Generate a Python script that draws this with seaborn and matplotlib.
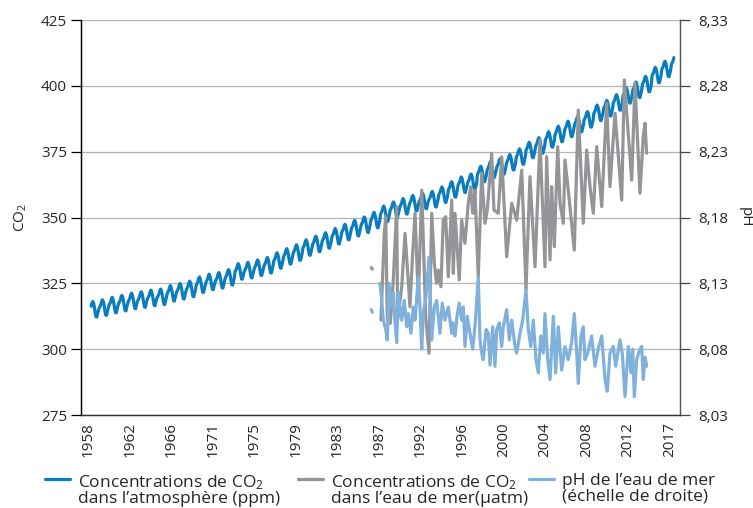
import numpy as np
import pandas as pd
import matplotlib
matplotlib.use("Agg")
import matplotlib.pyplot as plt
import seaborn as sns

# atmospheric CO2, annual means (ppm) 1958-2018
co2_years = list(range(1958, 2019))
co2_annual = [315.3, 315.97, 316.91, 317.64, 318.45, 318.99, 319.62, 320.04, 321.38, 322.16,
              323.04, 324.62, 325.68, 326.32, 327.45, 329.68, 330.18, 331.11, 332.04, 333.83,
              335.40, 336.84, 338.75, 340.11, 341.45, 343.05, 344.65, 346.12, 347.42, 349.19,
              351.57, 353.12, 354.39, 355.61, 356.45, 357.10, 358.83, 360.82, 362.61, 363.73,
              366.70, 368.38, 369.55, 371.14, 373.28, 375.80, 377.52, 379.80, 381.90, 383.79,
              385.60, 387.43, 389.90, 391.65, 393.85, 396.52, 398.65, 400.83, 404.24, 406.55,
              408.52]
# monthly departure from the annual mean, Jan..Dec
co2_season = [-0.3, 0.3, 1.0, 2.2, 2.8, 2.1, 0.6, -1.4, -3.0, -3.1, -1.8, -0.5]

# CO2 in sea water (uatm)
gray_early_years = [1987.08, 1987.20]
gray_early_vals = [331.0, 330.4]
gray_years = [1988.09, 1988.43, 1988.58, 1988.74, 1989.05, 1989.36, 1989.71, 1989.81, 1990.23, 1990.57,
              1991.08, 1991.32, 1991.60, 1991.94, 1992.29, 1992.70, 1993.04, 1993.32, 1993.59, 1993.83,
              1994.00, 1994.27, 1994.51, 1994.76, 1995.03, 1995.38, 1995.55, 1995.72, 1996.16, 1996.41,
              1996.75, 1997.09, 1997.34, 1997.55, 1997.78, 1998.12, 1998.47, 1998.81, 1999.05, 1999.50,
              1999.74, 2000.18, 2000.54, 2001.05, 2001.57, 2002.08, 2002.60, 2003.04, 2003.45, 2003.97,
              2004.48, 2005.00, 2005.17, 2005.52, 2005.69, 2005.96, 2006.31, 2006.55, 2006.89, 2007.06,
              2007.40, 2008.02, 2008.43, 2008.95, 2009.30, 2009.64, 2009.98, 2010.33, 2010.85, 2011.36,
              2011.70, 2012.22, 2012.91, 2013.18, 2013.94, 2014.28, 2014.79, 2015.13, 2015.31, 2015.48]
gray_vals = [311.1, 344.0, 350.3, 311.0, 309.8, 326.3, 354.1, 311.0, 323.7, 344.0,
             316.1, 333.8, 351.6, 318.7, 360.4, 312.3, 298.4, 351.6, 332.6, 325.0,
             330.0, 323.7, 349.0, 350.3, 327.5, 356.6, 328.8, 351.6, 326.3, 349.0,
             340.2, 355.4, 361.7, 351.6, 360.4, 327.5, 366.8, 347.8, 352.8, 374.4,
             352.8, 351.6, 373.1, 335.1, 355.4, 349.0, 368.0, 322.5, 365.5, 331.3,
             379.4, 331.3, 373.1, 333.9, 361.7, 338.9, 376.9, 355.4, 347.8, 371.8,
             360.4, 337.6, 390.8, 347.8, 375.6, 361.7, 351.6, 376.9, 354.1, 393.4,
             361.7, 389.6, 356.6, 402.2, 364.2, 400.9, 359.2, 380.7, 385.8, 374.4]

# sea water pH (right axis)
ph_early_years = [1987.08, 1987.20]
ph_early_vals = [8.110, 8.108]
ph_years = [1987.99, 1988.16, 1988.33, 1988.58, 1988.74, 1988.92, 1989.19, 1989.36, 1989.53, 1989.71,
            1989.87, 1990.05, 1990.23, 1990.49, 1990.74, 1990.91, 1991.18, 1991.42, 1991.60, 1991.94,
            1992.11, 1992.29, 1992.45, 1992.73, 1993.04, 1993.32, 1993.59, 1993.83, 1994.17, 1994.41,
            1994.69, 1995.03, 1995.38, 1995.48, 1995.72, 1995.96, 1996.16, 1996.41, 1996.58, 1996.75,
            1996.99, 1997.27, 1997.55, 1997.78, 1998.12, 1998.30, 1998.47, 1998.64, 1998.92, 1999.15,
            1999.33, 1999.61, 1999.84, 2000.02, 2000.29, 2000.54, 2000.70, 2001.05, 2001.32, 2001.57,
            2001.91, 2002.08, 2002.42, 2002.70, 2003.04, 2003.28, 2003.53, 2003.79, 2004.07, 2004.31,
            2004.56, 2004.82, 2005.00, 2005.28, 2005.52, 2005.86, 2006.10, 2006.37, 2006.55, 2006.72,
            2007.06, 2007.40, 2007.75, 2008.02, 2008.27, 2008.43, 2008.71, 2008.95, 2009.12, 2009.40,
            2009.81, 2010.15, 2010.49, 2010.85, 2011.19, 2011.42, 2011.70, 2012.04, 2012.29, 2012.73,
            2012.97, 2013.25, 2013.59, 2013.87, 2014.04, 2014.21, 2014.45, 2014.79, 2014.97, 2015.13,
            2015.31, 2015.48]
ph_vals = [8.130, 8.117, 8.102, 8.095, 8.087, 8.130, 8.112, 8.123, 8.102, 8.085,
           8.123, 8.112, 8.102, 8.117, 8.097, 8.107, 8.092, 8.112, 8.102, 8.135,
           8.112, 8.080, 8.107, 8.120, 8.150, 8.087, 8.112, 8.117, 8.092, 8.115,
           8.102, 8.112, 8.092, 8.100, 8.090, 8.107, 8.115, 8.102, 8.112, 8.082,
           8.105, 8.092, 8.080, 8.097, 8.135, 8.087, 8.077, 8.072, 8.095, 8.092,
           8.068, 8.097, 8.067, 8.095, 8.100, 8.082, 8.097, 8.110, 8.087, 8.102,
           8.082, 8.077, 8.092, 8.102, 8.125, 8.095, 8.082, 8.102, 8.072, 8.062,
           8.090, 8.077, 8.107, 8.072, 8.057, 8.105, 8.062, 8.097, 8.080, 8.064,
           8.082, 8.072, 8.085, 8.107, 8.077, 8.054, 8.090, 8.097, 8.072, 8.077,
           8.090, 8.067, 8.080, 8.090, 8.057, 8.048, 8.077, 8.082, 8.067, 8.087,
           8.077, 8.044, 8.082, 8.062, 8.080, 8.044, 8.072, 8.080, 8.082, 8.057,
           8.074, 8.067]

x_labels = ['1958', '1962', '1966', '1971', '1975', '1979', '1983', '1987',
            '1992', '1996', '2000', '2004', '2008', '2012', '2017']
co2_ticks = [275, 300, 325, 350, 375, 400, 425]
ph_ticks = [8.03, 8.08, 8.13, 8.18, 8.23, 8.28, 8.33]

labels = ['Concentrations de CO$_2$\ndans l\u2019atmosph\u00e8re (ppm)',
          'Concentrations de CO$_2$\ndans l\u2019eau de mer(\u00b5atm)',
          'pH de l\u2019eau de mer\n(\u00e9chelle de droite)']

blue = '#0A7DC1'
gray = '#949598'
light_blue = '#80B1DC'

# monthly table, March 1958 - April 2018
rows = []
for i, yr in enumerate(co2_years):
    for m in range(12):
        if yr == 1958 and m < 2:
            continue
        if yr == 2018 and m > 3:
            continue
        rows.append((yr + (m + 0.5) / 12, co2_annual[i] + co2_season[m]))
co2 = pd.DataFrame(rows, columns=['year', 'ppm'])
sea = pd.DataFrame({'year': gray_years, 'uatm': gray_vals})
sea0 = pd.DataFrame({'year': gray_early_years, 'uatm': gray_early_vals})
ph = pd.DataFrame({'year': ph_years, 'ph': ph_vals})
ph0 = pd.DataFrame({'year': ph_early_years, 'ph': ph_early_vals})

sns.set_theme(style='white')
plt.rcParams['font.family'] = ['Open Sans', 'DejaVu Sans']
plt.rcParams['mathtext.fontset'] = 'custom'
plt.rcParams['mathtext.rm'] = 'Open Sans'
plt.rcParams['mathtext.default'] = 'regular'

fig = plt.figure(figsize=(7.53, 5.08), dpi=100)
ax = fig.add_axes([81 / 753, 1 - 415 / 508, 599 / 753, 395 / 508])
ax2 = ax.twinx()

sns.lineplot(data=co2, x='year', y='ppm', ax=ax, color=blue, lw=2.3, estimator=None)
sns.lineplot(data=sea, x='year', y='uatm', ax=ax, color=gray, lw=2.3, estimator=None)
sns.lineplot(data=sea0, x='year', y='uatm', ax=ax, color=gray, lw=2.3, estimator=None)
sns.lineplot(data=ph, x='year', y='ph', ax=ax2, color=light_blue, lw=2.3, estimator=None)
sns.lineplot(data=ph0, x='year', y='ph', ax=ax2, color=light_blue, lw=2.3, estimator=None)

# axis 1957.16 .. 2018.92, ticks every ~4.28 years
ax.set_xlim(1957.16, 2018.92)
tick_pos = [1957.93 + 4.2787 * i for i in range(len(x_labels))]
ax.set_xticks(tick_pos, x_labels, rotation=90, fontsize=11)
ax.tick_params(axis='x', length=0, pad=5)

ax.set_ylim(275, 425)
ax.set_yticks(co2_ticks, [str(t) for t in co2_ticks], fontsize=11)
ax.tick_params(axis='y', length=7, width=0.9, color='black', pad=3, direction='out', left=True)
ax.grid(axis='y', color='#b5b5b5', lw=0.9)
ax.set_axisbelow(True)
ax.set_xlabel('')
ax.set_ylabel('CO$_2$', fontsize=11)
ax.yaxis.set_label_coords(-0.086, 0.5)

ax2.set_ylim(8.03, 8.33)
ax2.set_yticks(ph_ticks, [f'{t:.2f}'.replace('.', ',') for t in ph_ticks], fontsize=11)
ax2.tick_params(axis='y', length=7, width=0.9, color='#444444', pad=6, direction='out', right=True)
ax2.set_ylabel('pH', fontsize=11, rotation=270, va='center')
ax2.yaxis.set_label_coords((745 - 81) / 599, 0.5)

for a in (ax, ax2):
    a.spines['top'].set_visible(False)
    a.spines['left'].set_color('black')
    a.spines['bottom'].set_color('#333333')
    a.spines['right'].set_color('#555555')
    for s in ('left', 'bottom', 'right'):
        a.spines[s].set_linewidth(0.9)

# one legend per entry, placed like the reference
handles = [ax.lines[0], ax.lines[1], ax2.lines[0]]
leg_x = [45, 298, 529]
for h, lab, lx in zip(handles, labels, leg_x):
    leg = fig.legend([h], [lab], loc='upper left', bbox_to_anchor=(lx / 753, 1 - 473 / 508),
                     frameon=False, fontsize=12.5, handlelength=1.45, handletextpad=0.45,
                     borderpad=0, borderaxespad=0)
    for t in leg.get_texts():
        t.set_linespacing(0.95)
    # handle level with the first line of the label
    for col in leg._legend_handle_box.get_children():
        for item in col.get_children():
            item.align = 'top'

fig.savefig('out.png', dpi=100)
